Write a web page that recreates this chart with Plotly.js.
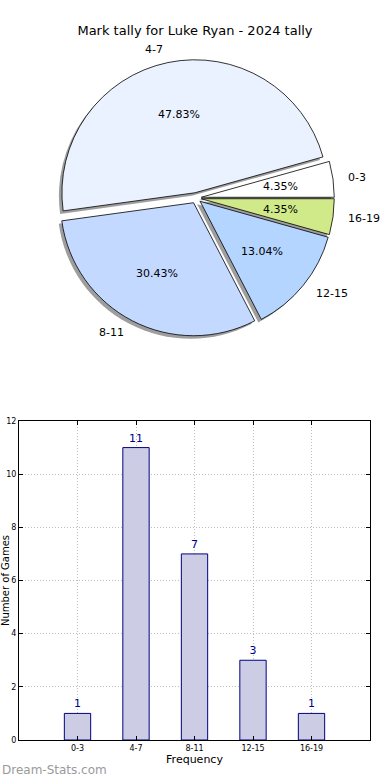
<!DOCTYPE html>
<html>
<head>
<meta charset="utf-8">
<script src="https://cdn.plot.ly/plotly-3.0.1.min.js"></script>
<style>html,body{margin:0;padding:0;background:#fff;}#chart{width:390px;height:780px;}</style>
</head>
<body>
<div id="chart"></div>
<script>
// ---- data ----
var categories = ["0-3", "4-7", "8-11", "12-15", "16-19"];
var counts = [1, 11, 7, 3, 1];
var sliceColors = ["#ffffff", "#eaf1ff", "#c4d9ff", "#b3d5ff", "#d0ea8a"];
var yTicks = [0, 2, 4, 6, 8, 10, 12];
var chartTitle = "Mark tally for Luke Ryan - 2024 tally";
var xTitle = "Frequency";
var yTitle = "Number of Games";
var watermark = "Dream-Stats.com";

// ---- geometry (pixels) ----
var W = 390, H = 780;
var cx = 196, cy = 198, r = 133, pull = 0.04;
var half = r * (1 + pull);
function px(x) { return x / W; }
function py(y) { return 1 - y / H; }

var total = counts.reduce(function (a, b) { return a + b; }, 0);
// Plotly counterclockwise: first slice lies clockwise of the rotation angle,
// so rotate back by the first slice so it starts at 3 o'clock going up.
var rot = 90 - 360 * counts[0] / total;

var pieDomain = {x: [px(cx - half), px(cx + half)], y: [py(cy + half), py(cy - half)]};
var sh = 3;
var shadowDomain = {x: [px(cx - half - sh), px(cx + half - sh)], y: [py(cy + half + sh), py(cy - half + sh)]};

var shadow = {
  type: "pie", labels: categories, values: counts, sort: false,
  direction: "counterclockwise", rotation: rot,
  pull: categories.map(function () { return pull; }),
  marker: {colors: categories.map(function () { return "rgba(0,0,0,0.38)"; }), line: {width: 0}},
  textinfo: "none", hoverinfo: "skip", showlegend: false, domain: shadowDomain
};
var pie = {
  type: "pie", labels: categories, values: counts, sort: false,
  direction: "counterclockwise", rotation: rot,
  pull: categories.map(function () { return pull; }),
  marker: {colors: sliceColors, line: {color: "#000", width: 0.8}},
  textinfo: "none", showlegend: false, domain: pieDomain
};

// annotations for labels and percentages computed from the data
var annotations = [];
var acc = 0;
for (var i = 0; i < counts.length; i++) {
  var mid = (acc + counts[i] / 2) / total * 2 * Math.PI;
  acc += counts[i];
  var c = Math.cos(mid), s = Math.sin(mid);
  var pct = (counts[i] / total * 100).toFixed(2) + "%";
  var pr = (0.6 + pull) * r;
  annotations.push({
    x: px(cx + pr * c), y: py(cy - pr * s), xref: "paper", yref: "paper",
    text: pct, showarrow: false, xanchor: "center", yanchor: "middle",
    font: {size: 11, color: "#000"}
  });
  var lr = (1.1 + pull) * r;
  annotations.push({
    x: px(cx + lr * c), y: py(cy - lr * s), xref: "paper", yref: "paper",
    text: categories[i], showarrow: false, xanchor: c >= 0 ? "left" : "right", yanchor: "middle",
    font: {size: 11, color: "#000"}
  });
}
annotations.push({
  x: 0, y: py(770), xref: "paper", yref: "paper", text: watermark, showarrow: false,
  xanchor: "left", yanchor: "middle", font: {size: 12, color: "#9a9a9a", family: "DejaVu Sans"}
});

var bars = {
  type: "bar", x: categories, y: counts, xaxis: "x", yaxis: "y", width: 0.45,
  marker: {color: "#ccccE5", line: {color: "#000080", width: 1}},
  text: counts.map(String), textposition: "outside", cliponaxis: false,
  textfont: {size: 11, color: "#00008b"}, showlegend: false, hoverinfo: "x+y"
};

var layout = {
  width: W, height: H,
  margin: {l: 0, r: 0, t: 0, b: 0},
  paper_bgcolor: "#fff", plot_bgcolor: "#fff",
  font: {family: "DejaVu Sans", color: "#000"},
  title: {text: chartTitle, font: {size: 13, color: "#000"}, x: 0.5, xanchor: "center", y: py(30), yanchor: "middle"},
  xaxis: {
    domain: [px(19), px(370)], anchor: "y", type: "category", range: [-1, 5],
    showline: true, linecolor: "#000", linewidth: 1, mirror: "ticks",
    showgrid: true, gridcolor: "#bdbdbd", griddash: "1px,2px", gridwidth: 1,
    ticks: "inside", ticklen: 4, tickcolor: "#000", tickfont: {size: 8},
    title: {text: xTitle, font: {size: 11}, standoff: 2}, zeroline: false
  },
  yaxis: {
    domain: [py(740), py(421)], anchor: "x", range: [0, 12],
    tickvals: yTicks, ticktext: yTicks.map(String),
    showline: true, linecolor: "#000", linewidth: 1, mirror: "ticks",
    showgrid: true, gridcolor: "#bdbdbd", griddash: "1px,2px", gridwidth: 1,
    ticks: "inside", ticklen: 4, tickcolor: "#000", tickfont: {size: 8},
    title: {text: yTitle, font: {size: 10}, standoff: 13}, zeroline: false
  },
  annotations: annotations,
  bargap: 0.2
};

Plotly.newPlot("chart", [shadow, pie, bars], layout, {displayModeBar: false, staticPlot: true});
</script>
</body>
</html>
